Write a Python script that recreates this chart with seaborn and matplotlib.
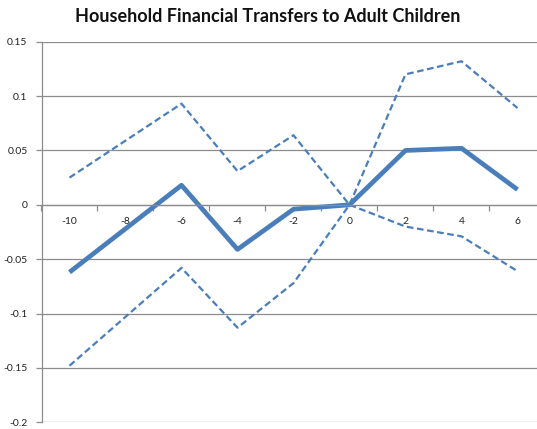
import numpy as np
import pandas as pd
import matplotlib
matplotlib.use("Agg")
import matplotlib.pyplot as plt
import seaborn as sns

# Years relative to the event
years = [-10, -8, -6, -4, -2, 0, 2, 4, 6]
# Point estimate and confidence band
estimate = [-0.062, -0.022, 0.018, -0.041, -0.004, 0.0, 0.050, 0.052, 0.014]
upper = [0.025, 0.059, 0.093, 0.031, 0.064, 0.0, 0.120, 0.132, 0.089]
lower = [-0.148, -0.103, -0.058, -0.113, -0.072, 0.0, -0.020, -0.029, -0.061]
y_ticks = [0.15, 0.1, 0.05, 0, -0.05, -0.1, -0.15, -0.2]
y_tick_labels = ["0.15", "0.1", "0.05", "0", "-0.05", "-0.1", "-0.15", "-0.2"]

sns.set_theme(style="white")
plt.rcParams["font.family"] = ["Lato", "DejaVu Sans"]

df = pd.DataFrame({"year": years, "estimate": estimate,
                   "upper": upper, "lower": lower})

blue = "#4a7ebb"
grid_gray = "#8c8c8c"

fig = plt.figure(figsize=(5.37, 4.29), dpi=100)
W, H = 537, 429
left_px, right_px = 41.5, 41.5 + 9 * 56
top_px, bottom_px = 41.7, 422.3
ax = fig.add_axes([left_px / W, 1 - bottom_px / H,
                   (right_px - left_px) / W, (bottom_px - top_px) / H])
ax.set_facecolor("white")

sns.lineplot(data=df, x="year", y="upper", ax=ax, color=blue, lw=1.6,
             linestyle=(0, (3, 1.6)))
sns.lineplot(data=df, x="year", y="lower", ax=ax, color=blue, lw=1.6,
             linestyle=(0, (3, 1.6)))
sns.lineplot(data=df, x="year", y="estimate", ax=ax, color=blue, lw=3.4,
             solid_capstyle="butt")

ax.set_xlim(-11, 7)
ax.set_ylim(-0.2, 0.15)
ax.set_xlabel("")
ax.set_ylabel("")

# Horizontal gridlines
for yv in y_ticks:
    ax.axhline(yv, color=grid_gray, lw=0.9, zorder=0)

ax.set_yticks(y_ticks)
ax.set_yticklabels(y_tick_labels)
ax.tick_params(axis="y", which="major", length=4, width=0.9, color=grid_gray,
               pad=6, labelsize=7.5, labelcolor="#222222", left=True)

# Category axis crossing at zero
for s in ["top", "right"]:
    ax.spines[s].set_visible(False)
ax.spines["left"].set_color(grid_gray)
ax.spines["left"].set_linewidth(0.9)
ax.spines["bottom"].set_position(("data", 0))
ax.spines["bottom"].set_color(grid_gray)
ax.spines["bottom"].set_linewidth(0.9)

ax.set_xticks(years)
ax.set_xticklabels([str(y) for y in years])
ax.set_xticks(np.arange(-11, 8, 2), minor=True)
ax.tick_params(axis="x", which="major", length=0, pad=9, labelsize=7.5,
               labelcolor="#222222", bottom=True)
ax.tick_params(axis="x", which="minor", length=4, width=0.9, color=grid_gray,
               bottom=True)

fig.text(268 / W, 1 - 17 / H, "Household Financial Transfers to Adult Children",
         ha="center", va="center", fontsize=13, fontweight="bold",
         color="#111111")

fig.savefig("out.png", dpi=100)
